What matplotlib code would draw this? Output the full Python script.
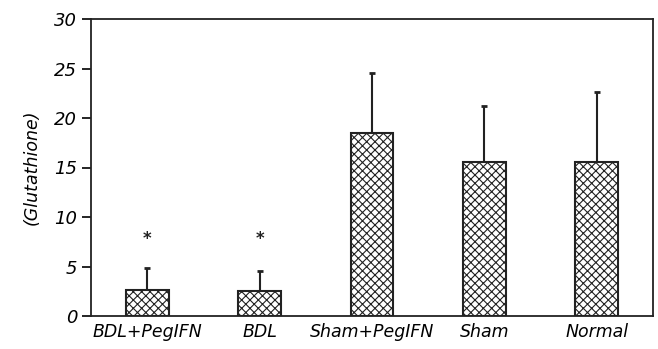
import matplotlib.pyplot as plt

groups = ["BDL+PegIFN", "BDL", "Sham+PegIFN", "Sham", "Normal"]
means = [2.65, 2.5, 18.5, 15.55, 15.55]
errors = [2.2, 2.05, 6.0, 5.65, 7.05]
star_groups = [0, 1]
star_y = 6.9

plt.rcParams["font.family"] = "DejaVu Sans"
plt.rcParams["hatch.linewidth"] = 0.8

fig = plt.figure(figsize=(6.58, 3.49), dpi=100)
ax = fig.add_axes([91 / 658, 1 - 316 / 349, 562 / 658, 297 / 349])

x = list(range(len(groups)))
ax.bar(x, means, width=0.38, color="white", edgecolor="#222222",
       linewidth=1.5, hatch="xxxx", zorder=2)
ax.errorbar(x, means, yerr=[[0] * len(errors), errors], fmt="none",
            ecolor="#222222", elinewidth=1.5, capsize=2.5, capthick=2, zorder=1)

for i in star_groups:
    ax.text(i, star_y, "*", ha="center", va="bottom", fontsize=12,
            fontweight="bold", color="#222222")

ax.set_xlim(-0.5, 4.5)
ax.set_ylim(0, 30)
ax.set_yticks(range(0, 31, 5))
ax.set_xticks(x)
ax.set_xticklabels(groups, style="italic", fontsize=12.5)
ax.tick_params(axis="y", labelsize=13, length=6.5, width=1.2, direction="out")
ax.tick_params(axis="x", length=0, pad=5)
for lbl in ax.get_yticklabels():
    lbl.set_style("italic")
for s in ax.spines.values():
    s.set_linewidth(1.3)
    s.set_color("#222222")

ax.set_ylabel("(Glutathione)", style="italic", fontsize=12.5, labelpad=10)

fig.savefig("out.png", dpi=100)
